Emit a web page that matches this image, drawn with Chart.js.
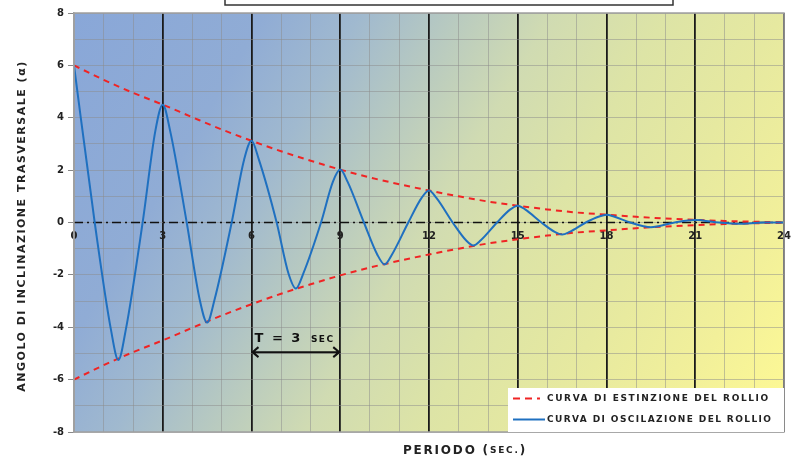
<!DOCTYPE html>
<html>
<head>
<meta charset="utf-8">
<script src="https://cdn.jsdelivr.net/npm/chart.js@4.4.1/dist/chart.umd.min.js"></script>
<style>
  html, body { margin: 0; padding: 0; background: #fff; }
</style>
</head>
<body>
<canvas id="rollChart" width="795" height="457"></canvas>
<script>
// roll oscillation (blue): peaks, points near the tips, zero crossings
const rollTime = [0, 0.7, 1.25, 1.5, 1.75, 2.32, 2.75, 3, 3.25, 3.81, 4.25, 4.5, 4.75, 5.33,
                  5.75, 6, 6.25, 6.85, 7.25, 7.5, 7.75, 8.35, 8.75, 9, 9.25, 9.8,
                  10.25, 10.5, 10.75, 11.3, 11.75, 12, 12.25, 12.8, 13.25, 13.5, 13.75, 14.3,
                  14.75, 15, 15.25, 15.8, 16.25, 16.5, 16.75, 17.3, 17.75, 18, 18.25, 18.8,
                  19.25, 19.5, 19.75, 20.3, 20.75, 21, 21.25, 21.8, 22.5, 23.3, 24];
const rollAngle = [6, 0, -4.1, -5.25, -4.1, 0, 3.5, 4.5, 3.5, 0, -2.95, -3.82, -2.95, 0,
                   2.4, 3.12, 2.4, 0, -1.95, -2.52, -1.95, 0, 1.55, 2.02, 1.55, 0,
                   -1.22, -1.6, -1.22, 0, 0.94, 1.22, 0.94, 0, -0.68, -0.88, -0.68, 0,
                   0.5, 0.64, 0.5, 0, -0.36, -0.46, -0.36, 0, 0.23, 0.3, 0.23, 0,
                   -0.14, -0.18, -0.14, 0, 0.08, 0.1, 0.08, 0, -0.05, 0, 0];

// extinction curves (red dashed)
const envelopeTime = [0, 1, 2, 3, 4, 5, 6, 7, 8, 9, 10, 11, 12, 13, 14, 15, 16, 17, 18, 19, 20, 21, 22, 23, 24];
const envelopeUpper = [6, 5.45, 4.95, 4.5, 4.02, 3.55, 3.12, 2.72, 2.36, 2.02, 1.72, 1.46, 1.22,
                       1.0, 0.8, 0.64, 0.5, 0.38, 0.3, 0.22, 0.15, 0.1, 0.06, 0.03, 0.01];
const envelopeLower = [-6, -5.45, -4.95, -4.5, -4.02, -3.55, -3.12, -2.72, -2.36, -2.02, -1.72, -1.46, -1.22,
                       -1.0, -0.8, -0.64, -0.5, -0.38, -0.3, -0.22, -0.15, -0.1, -0.06, -0.03, -0.01];

// zero reference line
const zeroTime = [0, 24];
const zeroLevel = [0, 0];

// period annotation
const periodStart = 6;
const periodEnd = 9;
const periodLevel = -4.95;
const periodLabelLevel = -4.45;

const labelExtinction = 'CURVA DI ESTINZIONE DEL ROLLIO';
const labelOscillation = 'CURVA DI OSCILAZIONE DEL ROLLIO';
const titleText = 'SMORZAMENTO DEL ROLLIO';

const RED = '#f02424';
const BLUE = '#1f70c0';
const FONT = '"DejaVu Sans", sans-serif';

function toPoints(xs, ys) {
    return xs.map((x, i) => ({ x: x, y: ys[i] }));
}

function spacedText(ctx, text, x, y, spacing) {
    ctx.letterSpacing = spacing + 'px';
    ctx.fillText(text, x, y);
    ctx.letterSpacing = '0px';
}

const panelBackground = {
    id: 'panelBackground',
    beforeDraw(chart) {
        const { ctx, chartArea: a } = chart;
        const g = ctx.createLinearGradient(a.left, a.top, a.right, a.bottom);
        g.addColorStop(0, '#89a7d8');
        g.addColorStop(0.2, '#90acd5');
        g.addColorStop(0.3, '#a0b9cf');
        g.addColorStop(0.4, '#b8cac0');
        g.addColorStop(0.5, '#d0dbb2');
        g.addColorStop(0.62, '#dde4a6');
        g.addColorStop(0.74, '#e6e9a0');
        g.addColorStop(0.87, '#f2f09a');
        g.addColorStop(1, '#fffa94');
        ctx.save();
        ctx.fillStyle = g;
        ctx.fillRect(a.left, a.top, a.width, a.height);
        ctx.restore();
    },
    afterDatasetsDraw(chart) {
        const { ctx, chartArea: a, scales } = chart;
        ctx.save();
        // frame
        ctx.strokeStyle = '#a0a0a0';
        ctx.lineWidth = 1.5;
        ctx.strokeRect(a.left, a.top, a.width, a.height);

        // period arrow
        const x1 = scales.x.getPixelForValue(periodStart);
        const x2 = scales.x.getPixelForValue(periodEnd);
        const ya = scales.y.getPixelForValue(periodLevel);
        ctx.strokeStyle = '#111';
        ctx.lineWidth = 2;
        ctx.beginPath();
        ctx.moveTo(x1 + 1, ya); ctx.lineTo(x2 - 1, ya);
        ctx.moveTo(x1 + 7, ya - 5); ctx.lineTo(x1 + 1, ya); ctx.lineTo(x1 + 7, ya + 5);
        ctx.moveTo(x2 - 7, ya - 5); ctx.lineTo(x2 - 1, ya); ctx.lineTo(x2 - 7, ya + 5);
        ctx.stroke();
        const yl = scales.y.getPixelForValue(periodLabelLevel);
        ctx.fillStyle = '#111';
        ctx.textBaseline = 'bottom';
        ctx.textAlign = 'left';
        ctx.font = 'bold 13px ' + FONT;
        let tx = x1 + 3;
        spacedText(ctx, 'T = 3 ', tx, yl + 6, 2);
        ctx.letterSpacing = '2px';
        tx += ctx.measureText('T = 3 ').width;
        ctx.letterSpacing = '0px';
        ctx.font = 'bold 9px ' + FONT;
        spacedText(ctx, 'SEC', tx + 2, yl + 5, 1.5);

        // legend box
        const lx = 508, ly = 388, lw = a.right - 508, lh = a.bottom - 388;
        ctx.fillStyle = '#ffffff';
        ctx.fillRect(lx, ly, lw, lh);
        ctx.lineWidth = 2;
        ctx.strokeStyle = RED;
        ctx.setLineDash([7, 5]);
        ctx.beginPath(); ctx.moveTo(513, 398.5); ctx.lineTo(540, 398.5); ctx.stroke();
        ctx.setLineDash([]);
        ctx.strokeStyle = BLUE;
        ctx.beginPath(); ctx.moveTo(513, 419.5); ctx.lineTo(545, 419.5); ctx.stroke();
        ctx.fillStyle = '#222';
        ctx.font = 'bold 9px ' + FONT;
        ctx.textBaseline = 'middle';
        spacedText(ctx, labelExtinction, 547, 399, 1.6);
        spacedText(ctx, labelOscillation, 547, 420, 1.4);
        ctx.restore();
    },
    afterDraw(chart) {
        const { ctx } = chart;
        ctx.save();
        // clipped title box at the top
        ctx.fillStyle = '#fff';
        ctx.fillRect(225, -10, 448, 15);
        ctx.strokeStyle = '#333';
        ctx.lineWidth = 1.5;
        ctx.strokeRect(225, -10, 448, 15);
        ctx.fillStyle = '#777';
        ctx.font = 'bold 9px ' + FONT;
        ctx.textAlign = 'center';
        ctx.textBaseline = 'bottom';
        spacedText(ctx, titleText, 450, 2, 1.5);

        // y title
        ctx.fillStyle = '#222';
        ctx.translate(22, 226);
        ctx.rotate(-Math.PI / 2);
        ctx.font = 'bold 11px ' + FONT;
        ctx.textBaseline = 'middle';
        spacedText(ctx, 'ANGOLO DI INCLINAZIONE TRASVERSALE (α)', 0, 0, 1.5);
        ctx.setTransform(1, 0, 0, 1, 0, 0);

        // x title
        ctx.textAlign = 'left';
        ctx.font = 'bold 12px ' + FONT;
        ctx.letterSpacing = '1.8px';
        const w1 = ctx.measureText('PERIODO (').width;
        ctx.font = 'bold 9px ' + FONT;
        const w2 = ctx.measureText('SEC.').width;
        ctx.font = 'bold 12px ' + FONT;
        const w3 = ctx.measureText(')').width;
        const x0 = 465 - (w1 + w2 + w3) / 2;
        ctx.fillText('PERIODO (', x0, 451);
        ctx.font = 'bold 9px ' + FONT;
        ctx.fillText('SEC.', x0 + w1, 451);
        ctx.font = 'bold 12px ' + FONT;
        ctx.fillText(')', x0 + w1 + w2, 451);
        ctx.restore();
    }
};

const ctx = document.getElementById('rollChart').getContext('2d');
new Chart(ctx, {
    type: 'line',
    data: {
        datasets: [
            {
                label: 'zero',
                data: toPoints(zeroTime, zeroLevel),
                borderColor: '#111',
                borderWidth: 1.5,
                borderDash: [9, 4, 2, 4],
                pointRadius: 0,
                order: 3
            },
            {
                label: labelExtinction,
                data: toPoints(envelopeTime, envelopeUpper),
                borderColor: RED,
                borderWidth: 2,
                borderDash: [6, 5],
                pointRadius: 0,
                cubicInterpolationMode: 'monotone',
                order: 2
            },
            {
                label: labelExtinction,
                data: toPoints(envelopeTime, envelopeLower),
                borderColor: RED,
                borderWidth: 2,
                borderDash: [6, 5],
                pointRadius: 0,
                cubicInterpolationMode: 'monotone',
                order: 2
            },
            {
                label: labelOscillation,
                data: toPoints(rollTime, rollAngle),
                borderColor: BLUE,
                borderWidth: 2,
                pointRadius: 0,
                cubicInterpolationMode: 'monotone',
                order: 1
            }
        ]
    },
    options: {
        responsive: false,
        animation: false,
        layout: { padding: { top: 13, right: 11, bottom: 25, left: 0 } },
        plugins: {
            legend: { display: false },
            tooltip: { enabled: false }
        },
        scales: {
            x: {
                type: 'linear',
                min: 0,
                max: 24,
                position: { y: 0 },
                afterFit: s => { s.paddingLeft = 0; s.paddingRight = 0; },
                border: { display: false },
                grid: {
                    drawTicks: false,
                    color: c => (c.tick && c.tick.value % 3 === 0 && c.tick.value !== 0) ? '#1a1a1a' : 'rgba(140,140,140,0.5)',
                    lineWidth: c => (c.tick && c.tick.value % 3 === 0 && c.tick.value !== 0) ? 1.8 : 1
                },
                ticks: {
                    stepSize: 1,
                    autoSkip: false,
                    maxRotation: 0,
                    padding: 8,
                    color: '#222',
                    font: { family: FONT, size: 10, weight: 'bold' },
                    callback: v => (v % 3 === 0 ? String(v) : '')
                }
            },
            y: {
                min: -8,
                max: 8,
                afterFit: s => { s.width = 74; },
                border: { color: '#a0a0a0', width: 1.5 },
                grid: {
                    color: 'rgba(140,140,140,0.5)',
                    tickLength: 6,
                    tickColor: c => (c.tick && c.tick.value % 2 === 0) ? '#888' : 'rgba(0,0,0,0)'
                },
                ticks: {
                    stepSize: 1,
                    autoSkip: false,
                    padding: 4,
                    color: '#222',
                    font: { family: FONT, size: 10, weight: 'bold' },
                    callback: v => (v % 2 === 0 ? String(v) : '')
                }
            }
        }
    },
    plugins: [panelBackground]
});
</script>
</body>
</html>
